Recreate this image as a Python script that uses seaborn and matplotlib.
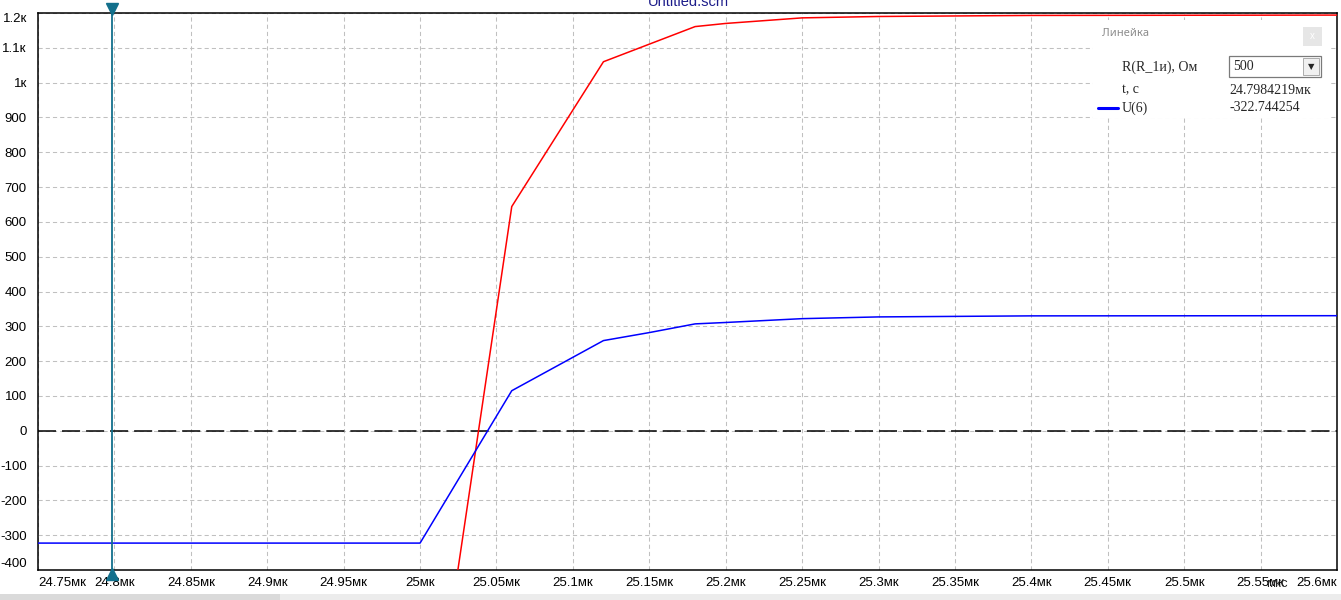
import pandas as pd
import seaborn as sns
import matplotlib.pyplot as plt
from matplotlib import transforms
from matplotlib.patches import Rectangle

sns.set_style("white")
plt.rcParams['font.family'] = ['Liberation Sans', 'DejaVu Sans']
plt.rcParams['lines.scale_dashes'] = False

# ---- data (time in мкс) ----
t_u6 = [24.75, 25.0, 25.06, 25.12, 25.15, 25.18, 25.2, 25.25, 25.3, 25.4, 25.6]
u6 = [-322.7, -322.7, 115, 259, 282, 307, 311, 322, 327, 330, 330.5]
t_red = [24.75, 25.0, 25.06, 25.12, 25.18, 25.2, 25.25, 25.3, 25.4, 25.6]
v_red = [-1133, -1133, 644, 1060, 1161, 1170, 1186, 1190, 1193, 1194]

cursor_t = 24.7984219
cursor_u = -322.744254

x_ticks = [24.75, 24.8, 24.85, 24.9, 24.95, 25.0, 25.05, 25.1, 25.15,
           25.2, 25.25, 25.3, 25.35, 25.4, 25.45, 25.5, 25.55, 25.6]
x_labels = ['24.75мк', '24.8мк', '24.85мк', '24.9мк', '24.95мк', '25мк',
            '25.05мк', '25.1мк', '25.15мк', '25.2мк', '25.25мк', '25.3мк',
            '25.35мк', '25.4мк', '25.45мк', '25.5мк', '25.55мк', '25.6мк']
y_ticks = [-400, -300, -200, -100, 0, 100, 200, 300, 400, 500, 600, 700,
           800, 900, 1000, 1100, 1200]
y_labels = ['-400', '-300', '-200', '-100', '0', '100', '200', '300', '400',
            '500', '600', '700', '800', '900', '1к', '1.1к', '1.2к']

df_u6 = pd.DataFrame({'t': t_u6, 'v': u6})
df_red = pd.DataFrame({'t': t_red, 'v': v_red})

W, H = 1341, 600
fig = plt.figure(figsize=(W / 100, H / 100), dpi=100)
ax = fig.add_axes([38 / W, 30 / H, 1299 / W, 557 / H])


def px(x, y):
    # pixel position -> figure fraction
    return x / W, 1 - y / H


# grid + zero line
ax.set_xticks(x_ticks)
ax.set_yticks(y_ticks)
ax.grid(True, color='#c0c0c0', lw=0.75, ls=(0, (3, 2.2)), zorder=0)
ax.axhline(0, color='black', lw=1.1, ls=(0, (13, 4.3)), zorder=1)

# curves
sns.lineplot(data=df_red, x='t', y='v', color='#ff0000', lw=1.1,
             estimator=None, sort=False, ax=ax, zorder=3)
sns.lineplot(data=df_u6, x='t', y='v', color='#0000ff', lw=1.1,
             estimator=None, sort=False, ax=ax, zorder=3)

ax.set_xlim(24.75, 25.6)
ax.set_ylim(-400, 1200)
ax.set_xlabel('')
ax.set_ylabel('')

# cursor (Линейка)
cur_col = '#13708c'
ax.axvline(cursor_t, color=cur_col, lw=1.3, zorder=4)
trans = ax.get_xaxis_transform()
top_tr = transforms.offset_copy(trans, fig=fig, x=0, y=4, units='dots')
bot_tr = transforms.offset_copy(trans, fig=fig, x=0, y=-4, units='dots')
ax.plot([cursor_t], [1], marker='v', ms=8, color=cur_col, transform=top_tr,
        clip_on=False, zorder=6)
ax.plot([cursor_t], [0], marker='^', ms=8, color=cur_col, transform=bot_tr,
        clip_on=False, zorder=6)

# ticks
ax.set_xticklabels(x_labels)
ax.set_yticklabels(y_labels)
ax.tick_params(axis='both', length=0, labelsize=9.5, colors='black')
ax.tick_params(axis='x', pad=5)
ax.tick_params(axis='y', pad=8)
xl = ax.get_xticklabels()
xl[0].set_ha('left')
xl[-1].set_ha('right')
yl = ax.get_yticklabels()
yl[0].set_va('bottom')
yl[-1].set_va('top')

for s in ax.spines.values():
    s.set_color('black')
    s.set_linewidth(1.1)

# unit label overlapping the axis labels
fig.text(*px(1277, 584), 'мкс', fontsize=9.5, ha='center', va='center')

# title, cut off at the top
fig.text(*px(688, 6), 'Untitled.scm', fontsize=10.5, color='#1c1c8a',
         ha='center', va='baseline')

# ruler panel
fig.patches.append(Rectangle(px(1093, 118), 237 / W, 98 / H,
                             transform=fig.transFigure, facecolor='white',
                             edgecolor='none', zorder=5))
fig.patches.append(Rectangle(px(1303, 46), 19 / W, 19 / H,
                             transform=fig.transFigure, facecolor='#e6e6e6',
                             edgecolor='none', zorder=6))
fig.text(*px(1312.5, 36), 'x', fontsize=7, color='white', ha='center',
         va='center', zorder=7)
fig.text(*px(1102, 34), 'Линейка', fontsize=8, color='#8c8c8c',
         family=['Noto Sans', 'DejaVu Sans'], va='center', zorder=7)

serif = ['Liberation Serif', 'DejaVu Serif']
fig.text(*px(1122, 67), 'R(R_1и), Ом', fontsize=10, family=serif,
         va='center', zorder=7)
fig.patches.append(Rectangle(px(1229, 77), 92 / W, 21 / H,
                             transform=fig.transFigure, facecolor='white',
                             edgecolor='#7a7a7a', lw=0.9, zorder=6))
fig.patches.append(Rectangle(px(1303, 75), 16 / W, 17 / H,
                             transform=fig.transFigure, facecolor='#f0f0f0',
                             edgecolor='#a0a0a0', lw=0.6, zorder=7))
fig.text(*px(1311, 67), '▼', fontsize=6, ha='center', va='center',
         family=['DejaVu Sans'], zorder=8)
fig.text(*px(1233, 67), '500', fontsize=10, family=serif, va='center',
         zorder=7)

fig.text(*px(1122, 90), 't, c', fontsize=10, family=serif, va='center',
         zorder=7)
fig.text(*px(1229, 90), f'{cursor_t:.7f}мк', fontsize=10, family=serif,
         va='center', zorder=7)
fig.lines.append(plt.Line2D([1098 / W, 1118 / W], [1 - 108 / H] * 2,
                            transform=fig.transFigure, color='#0000ff',
                            lw=2.2, zorder=7))
fig.text(*px(1122, 108), 'U(6)', fontsize=10, family=serif, va='center',
         zorder=7)
fig.text(*px(1229, 108), f'{cursor_u:.6f}', fontsize=10, family=serif,
         va='center', zorder=7)

# scrollbar strip at the bottom
fig.patches.append(Rectangle((0, 0), 1, 6 / H, transform=fig.transFigure,
                             facecolor='#ececec', edgecolor='none', zorder=1))
fig.patches.append(Rectangle((0, 0), 280 / W, 6 / H,
                             transform=fig.transFigure, facecolor='#dadada',
                             edgecolor='none', zorder=2))

fig.savefig('out.png', dpi=100)
